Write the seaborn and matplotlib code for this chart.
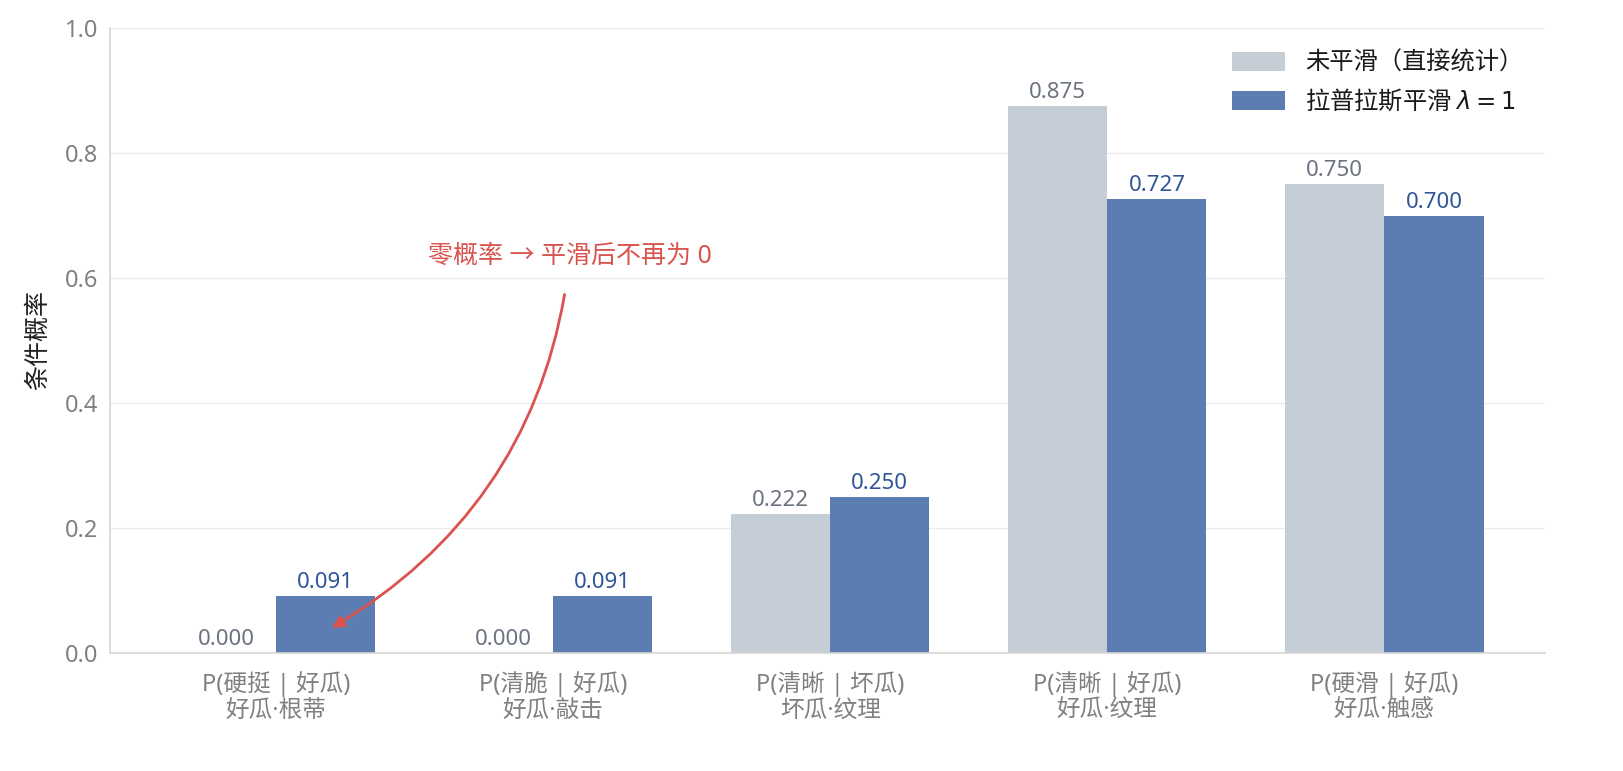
import matplotlib
matplotlib.use("Agg")
import matplotlib.pyplot as plt
import seaborn as sns
import pandas as pd

categories = ["P(硬挺 | 好瓜)\n好瓜·根蒂", "P(清脆 | 好瓜)\n好瓜·敲击", "P(清晰 | 坏瓜)\n坏瓜·纹理",
              "P(清晰 | 好瓜)\n好瓜·纹理", "P(硬滑 | 好瓜)\n好瓜·触感"]
raw_values = [0.000, 0.000, 0.222, 0.875, 0.750]
smooth_values = [0.091, 0.091, 0.250, 0.727, 0.700]
series_names = ["未平滑（直接统计）", "拉普拉斯平滑 $\\lambda = 1$"]
y_ticks = [0.0, 0.2, 0.4, 0.6, 0.8, 1.0]

sns.set_theme(style="white")
plt.rcParams['font.family'] = ['Noto Sans', 'Noto Sans CJK SC', 'DejaVu Sans']
plt.rcParams['mathtext.fontset'] = 'dejavusans'

df = pd.DataFrame({
    "cat": categories * 2,
    "val": raw_values + smooth_values,
    "series": [series_names[0]] * len(categories) + [series_names[1]] * len(categories),
})

colors = {series_names[0]: "#C5CDD7", series_names[1]: "#5B7DB1"}
label_colors = ["#6B7280", "#2F5597"]

fig = plt.figure(figsize=(16.23, 7.71), dpi=100)
ax = fig.add_axes([110/1623, 1 - 653/771, (1545-110)/1623, (653-28)/771])

sns.barplot(data=df, x="cat", y="val", hue="series", palette=colors, width=0.716,
            gap=0, ax=ax, saturation=1, errorbar=None, linewidth=0, edgecolor="none")

for cont, col in zip(ax.containers, label_colors):
    ax.bar_label(cont, fmt="%.3f", padding=2, color=col, fontsize=16)

ax.set_ylim(0, 1.0)
ax.set_xlim(-0.6, 4.58)
ax.set_yticks(y_ticks)
ax.set_yticklabels([f"{t:.1f}" for t in y_ticks])
ax.set_xlabel("")
ax.set_ylabel("条件概率", fontsize=18, color="#222222", labelpad=10)
ax.yaxis.grid(True, color="#EBEBEB", linewidth=1)
ax.set_axisbelow(True)
for s in ["top", "right"]:
    ax.spines[s].set_visible(False)
for s in ["left", "bottom"]:
    ax.spines[s].set_color("#D5D5D5")
    ax.spines[s].set_linewidth(1.2)
ax.tick_params(axis="both", colors="#808080", labelsize=17, length=5, width=1.2,
               labelcolor="#808080")
ax.tick_params(axis="x", pad=8)
for lab in ax.get_xticklabels():
    lab.set_linespacing(1.1)

leg = ax.legend(loc="upper right", frameon=False,
                prop={'family': ['Noto Sans CJK SC'], 'size': 17.5},
                handlelength=2.2, handleheight=0.8, handletextpad=0.8,
                labelspacing=0.5, borderaxespad=0.5, bbox_to_anchor=(1.0, 1.0))
for t in leg.get_texts():
    t.set_color("#1a1a1a")

ax.annotate("零概率 → 平滑后不再为 0", xy=(0.2, 0.04), xytext=(1.06, 0.634),
            ha="center", va="center", color="#D9534F", fontsize=18,
            arrowprops=dict(arrowstyle="-|>", color="#D9534F", lw=2,
                            connectionstyle="arc3,rad=-0.25", shrinkA=16, shrinkB=0,
                            mutation_scale=18))

fig.savefig("out.png", dpi=100)
